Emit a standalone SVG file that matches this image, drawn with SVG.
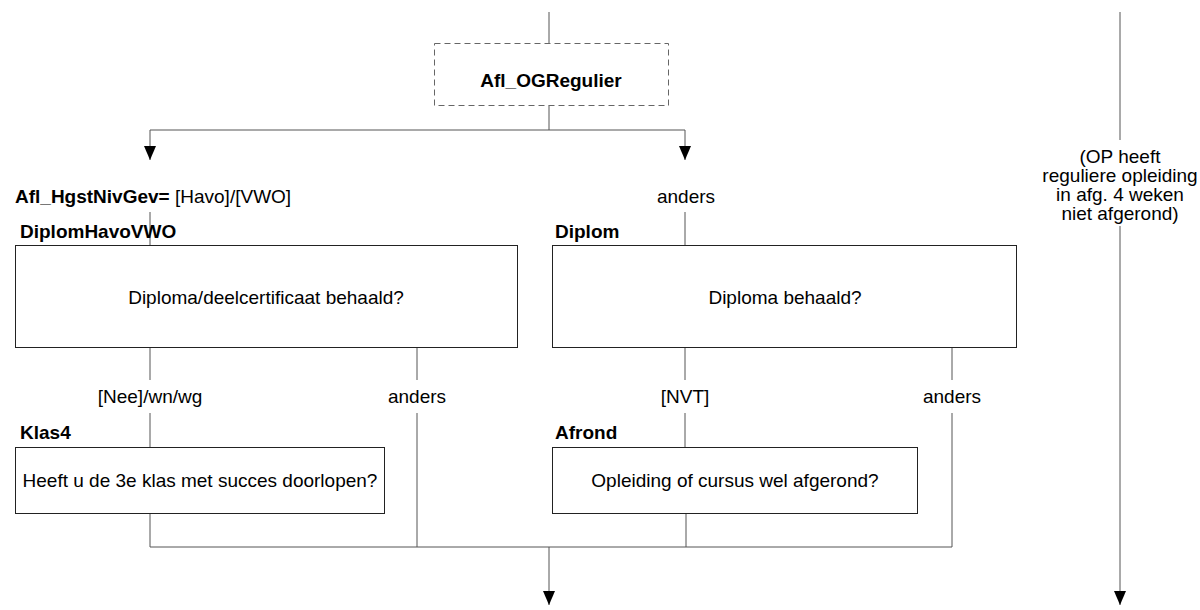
<svg xmlns="http://www.w3.org/2000/svg" width="1200" height="610" viewBox="0 0 1200 610">
<style>
text{font-family:"Liberation Sans",Arial,sans-serif;font-size:19px;fill:#000}
.b{font-weight:bold}
.m{text-anchor:middle}
.box{fill:#fff;stroke:#222;stroke-width:1}
.dash{fill:#fff;stroke:#666;stroke-width:1;stroke-dasharray:6,4}
.ln{fill:none;stroke:#555;stroke-width:1}
</style>
<defs>
<marker id="a" markerWidth="12" markerHeight="14" refX="6" refY="14" markerUnits="userSpaceOnUse" viewBox="0 0 12 14">
<path d="M0,0 L12,0 L6,14 z" fill="#000"/>
</marker>
</defs>
<g id="connectors">
<line class="ln" x1="549" y1="12" x2="549" y2="43"/>
<polyline class="ln" points="549,105 549,130 150,130 150,160" marker-end="url(#a)"/>
<polyline class="ln" points="549,130 685,130 685,160" marker-end="url(#a)"/>
<line class="ln" x1="150" y1="212" x2="150" y2="245"/>
<line class="ln" x1="685" y1="212" x2="685" y2="245"/>
<line class="ln" x1="150" y1="348" x2="150" y2="380"/>
<line class="ln" x1="417" y1="348" x2="417" y2="380"/>
<line class="ln" x1="685" y1="348" x2="685" y2="380"/>
<line class="ln" x1="952" y1="348" x2="952" y2="380"/>
<line class="ln" x1="150" y1="413" x2="150" y2="447"/>
<line class="ln" x1="685" y1="413" x2="685" y2="447"/>
<polyline class="ln" points="150,513 150,547 952,547 952,413"/>
<line class="ln" x1="417" y1="413" x2="417" y2="547"/>
<line class="ln" x1="686" y1="513" x2="686" y2="547"/>
<line class="ln" x1="549" y1="547" x2="549" y2="605" marker-end="url(#a)"/>
<line class="ln" x1="1120" y1="12" x2="1120" y2="140"/>
<line class="ln" x1="1120" y1="226" x2="1120" y2="605" marker-end="url(#a)"/>
</g>
<g id="Afl_OGRegulier">
<rect class="dash" x="434.5" y="43.5" width="234" height="62"/>
<text class="b m" x="551" y="87">Afl_OGRegulier</text>
</g>
<g id="cond_havo">
<text x="15" y="203"><tspan class="b">Afl_HgstNivGev=</tspan> [Havo]/[VWO]</text>
</g>
<g id="cond_anders1">
<text class="m" x="686" y="203">anders</text>
</g>
<g id="note">
<text class="m" x="1120" y="163">(OP heeft<tspan x="1120" dy="19">reguliere opleiding</tspan><tspan x="1120" dy="19">in afg. 4 weken</tspan><tspan x="1120" dy="19">niet afgerond)</tspan></text>
</g>
<g id="DiplomHavoVWO">
<text class="b" x="20" y="238">DiplomHavoVWO</text>
<rect class="box" x="15.5" y="245.5" width="502" height="102"/>
<text class="m" x="266" y="304">Diploma/deelcertificaat behaald?</text>
</g>
<g id="Diplom">
<text class="b" x="555" y="238">Diplom</text>
<rect class="box" x="552.5" y="245.5" width="464" height="102"/>
<text class="m" x="785" y="304">Diploma behaald?</text>
</g>
<g id="labels2">
<text class="m" x="150" y="403">[Nee]/wn/wg</text>
<text class="m" x="417" y="403">anders</text>
<text class="m" x="685" y="403">[NVT]</text>
<text class="m" x="952" y="403">anders</text>
</g>
<g id="Klas4">
<text class="b" x="20" y="439">Klas4</text>
<rect class="box" x="15.5" y="447.5" width="369" height="66"/>
<text class="m" x="200" y="487">Heeft u de 3e klas met succes doorlopen?</text>
</g>
<g id="Afrond">
<text class="b" x="555" y="439">Afrond</text>
<rect class="box" x="552.5" y="447.5" width="365" height="66"/>
<text class="m" x="735" y="487">Opleiding of cursus wel afgerond?</text>
</g>
</svg>
